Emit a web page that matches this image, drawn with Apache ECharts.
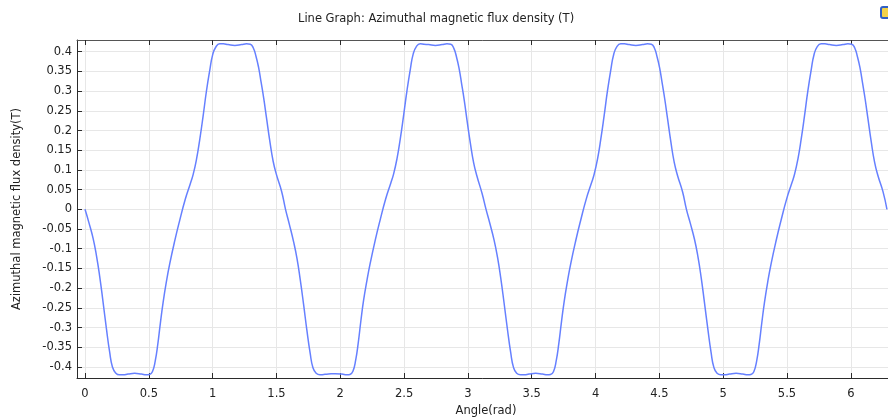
<!DOCTYPE html>
<html>
<head>
<meta charset="utf-8">
<title>Azimuthal magnetic flux density</title>
<script src="https://cdn.jsdelivr.net/npm/echarts@6/dist/echarts.min.js"></script>
<style>
  html, body { margin: 0; padding: 0; background: #ffffff; }
  #chart { width: 888px; height: 418px; }
</style>
</head>
<body>
<div id="chart"></div>
<script>
// Angle (rad), one line per quarter turn (pole pitch)
const angle = [
  0.000, 0.030, 0.063, 0.090, 0.115, 0.141, 0.167, 0.193, 0.215, 0.240, 0.270, 0.300, 0.337, 0.389, 0.442, 0.480, 0.505, 0.528, 0.550, 0.570, 0.590, 0.612, 0.638, 0.664, 0.703, 0.742, 0.785, 0.825, 0.847, 0.873, 0.899, 0.925, 0.951, 0.978, 1.000, 1.025, 1.055, 1.085, 1.121, 1.174, 1.226, 1.265, 1.295, 1.318, 1.340, 1.360, 1.380, 1.400, 1.422, 1.448, 1.474, 1.500, 1.540,
  1.571, 1.601, 1.634, 1.661, 1.686, 1.712, 1.738, 1.764, 1.786, 1.811, 1.841, 1.871, 1.908, 1.960, 2.013, 2.051, 2.076, 2.099, 2.121, 2.141, 2.161, 2.183, 2.209, 2.235, 2.274, 2.313, 2.356, 2.396, 2.418, 2.444, 2.470, 2.496, 2.522, 2.549, 2.571, 2.596, 2.626, 2.656, 2.692, 2.745, 2.797, 2.836, 2.866, 2.889, 2.911, 2.931, 2.951, 2.971, 2.993, 3.019, 3.045, 3.071, 3.111,
  3.142, 3.172, 3.205, 3.232, 3.257, 3.283, 3.309, 3.335, 3.357, 3.382, 3.412, 3.442, 3.479, 3.531, 3.584, 3.622, 3.647, 3.670, 3.692, 3.712, 3.732, 3.754, 3.780, 3.806, 3.845, 3.884, 3.927, 3.967, 3.989, 4.015, 4.041, 4.067, 4.093, 4.120, 4.142, 4.167, 4.197, 4.227, 4.263, 4.316, 4.368, 4.407, 4.437, 4.460, 4.482, 4.502, 4.522, 4.542, 4.564, 4.590, 4.616, 4.642, 4.682,
  4.712, 4.742, 4.775, 4.802, 4.827, 4.853, 4.879, 4.905, 4.927, 4.952, 4.982, 5.012, 5.049, 5.101, 5.154, 5.192, 5.217, 5.240, 5.262, 5.282, 5.302, 5.324, 5.350, 5.376, 5.415, 5.454, 5.497, 5.537, 5.559, 5.585, 5.611, 5.637, 5.663, 5.690, 5.712, 5.737, 5.767, 5.797, 5.833, 5.886, 5.938, 5.977, 6.007, 6.030, 6.052, 6.072, 6.092, 6.112, 6.134, 6.160, 6.186, 6.212, 6.252,
  6.283
];

// Azimuthal magnetic flux density (T) at each angle
const flux = [
  0.000, -0.033, -0.073, -0.118, -0.170, -0.234, -0.301, -0.362, -0.400, -0.415, -0.420, -0.420, -0.418, -0.416, -0.418, -0.420, -0.419, -0.412, -0.385, -0.343, -0.290, -0.236, -0.183, -0.138, -0.080, -0.028, 0.025, 0.065, 0.088, 0.126, 0.177, 0.236, 0.299, 0.354, 0.392, 0.412, 0.420, 0.420, 0.418, 0.416, 0.418, 0.420, 0.419, 0.410, 0.388, 0.360, 0.322, 0.282, 0.232, 0.173, 0.122, 0.088, 0.046,
  0.000, -0.038, -0.082, -0.125, -0.178, -0.240, -0.306, -0.365, -0.402, -0.416, -0.420, -0.419, -0.418, -0.417, -0.418, -0.420, -0.419, -0.411, -0.382, -0.338, -0.284, -0.230, -0.180, -0.136, -0.078, -0.026, 0.027, 0.067, 0.090, 0.128, 0.179, 0.238, 0.300, 0.356, 0.394, 0.413, 0.420, 0.419, 0.418, 0.416, 0.418, 0.420, 0.419, 0.409, 0.386, 0.357, 0.318, 0.277, 0.226, 0.168, 0.118, 0.084, 0.040,
  0.000, -0.036, -0.078, -0.122, -0.174, -0.237, -0.303, -0.363, -0.401, -0.416, -0.420, -0.420, -0.418, -0.416, -0.418, -0.420, -0.419, -0.412, -0.384, -0.341, -0.288, -0.234, -0.182, -0.137, -0.079, -0.027, 0.026, 0.066, 0.089, 0.127, 0.178, 0.237, 0.300, 0.355, 0.393, 0.413, 0.420, 0.420, 0.418, 0.416, 0.418, 0.420, 0.419, 0.410, 0.387, 0.359, 0.320, 0.280, 0.230, 0.171, 0.120, 0.086, 0.044,
  0.000, -0.035, -0.076, -0.120, -0.172, -0.236, -0.302, -0.363, -0.401, -0.416, -0.420, -0.420, -0.418, -0.416, -0.418, -0.420, -0.419, -0.412, -0.385, -0.342, -0.289, -0.235, -0.182, -0.137, -0.079, -0.027, 0.026, 0.066, 0.089, 0.127, 0.178, 0.237, 0.300, 0.355, 0.393, 0.413, 0.420, 0.420, 0.418, 0.416, 0.418, 0.420, 0.419, 0.410, 0.387, 0.359, 0.320, 0.280, 0.230, 0.171, 0.120, 0.086, 0.045,
  0.000
];

const xTicks = [0, 0.5, 1, 1.5, 2, 2.5, 3, 3.5, 4, 4.5, 5, 5.5, 6];
const yTicks = [-0.4, -0.35, -0.3, -0.25, -0.2, -0.15, -0.1, -0.05, 0, 0.05, 0.1, 0.15, 0.2, 0.25, 0.3, 0.35, 0.4];

const FONT = 'DejaVu Sans';
const AXIS_COLOR = '#2b2b2b';
const GRID_COLOR = '#e7e7e7';

const points = angle.map((a, i) => [a, flux[i]]);

const chart = echarts.init(document.getElementById('chart'), null, { renderer: 'canvas' });

chart.setOption({
  animation: false,
  backgroundColor: '#ffffff',
  textStyle: { fontFamily: FONT },
  title: {
    text: 'Line Graph: Azimuthal magnetic flux density (T)',
    left: 293,
    top: 8,
    textStyle: { fontFamily: FONT, fontSize: 11.5, fontWeight: 'normal', color: '#222222' }
  },
  grid: {
    left: 77,
    top: 40,
    right: -7,
    bottom: 40,
    outerBoundsMode: 'none',
    containLabel: false
  },
  xAxis: [
    {
      type: 'value',
      min: -0.0627,
      max: 6.346,
      splitNumber: 13,
      position: 'bottom',
      name: 'Angle(rad)',
      nameLocation: 'middle',
      nameGap: 24,
      nameTextStyle: { fontFamily: FONT, fontSize: 11.5, color: '#222222' },
      axisLine: { show: true, onZero: false, lineStyle: { color: AXIS_COLOR, width: 1 } },
      axisTick: { show: true, inside: true, length: 5, customValues: xTicks, lineStyle: { color: AXIS_COLOR } },
      axisLabel: { customValues: xTicks, margin: 10, fontFamily: FONT, fontSize: 11.5, color: '#222222' },
      splitLine: { show: true, lineStyle: { color: GRID_COLOR, width: 1 } }
    },
    {
      type: 'value',
      min: -0.0627,
      max: 6.346,
      splitNumber: 13,
      position: 'top',
      axisLine: { show: true, onZero: false, lineStyle: { color: '#555555', width: 1 } },
      axisTick: { show: true, inside: true, length: 5, customValues: xTicks, lineStyle: { color: AXIS_COLOR } },
      axisLabel: { show: false },
      splitLine: { show: false }
    }
  ],
  yAxis: [
    {
      type: 'value',
      min: -0.428,
      max: 0.4297,
      splitNumber: 17,
      position: 'left',
      name: 'Azimuthal magnetic flux density(T)',
      nameLocation: 'middle',
      nameGap: 54,
      nameTextStyle: { fontFamily: FONT, fontSize: 11.5, color: '#222222' },
      axisLine: { show: true, onZero: false, lineStyle: { color: AXIS_COLOR, width: 1 } },
      axisTick: { show: true, inside: true, length: 5, customValues: yTicks, lineStyle: { color: AXIS_COLOR } },
      axisLabel: { customValues: yTicks, margin: 5, fontFamily: FONT, fontSize: 11.5, color: '#222222' },
      splitLine: { show: true, lineStyle: { color: GRID_COLOR, width: 1 } }
    }
  ],
  series: [
    {
      type: 'line',
      xAxisIndex: 0,
      yAxisIndex: 0,
      data: points,
      showSymbol: false,
      smooth: 0.5,
      clip: true,
      lineStyle: { color: '#6680ff', width: 1.5 }
    }
  ],
  graphic: [
    {
      type: 'rect',
      left: 880,
      top: 6,
      shape: { width: 11, height: 11, r: 2 },
      style: { fill: '#f2d24a', stroke: '#2f5fc4', lineWidth: 2 },
      silent: true
    }
  ]
});
</script>
</body>
</html>
